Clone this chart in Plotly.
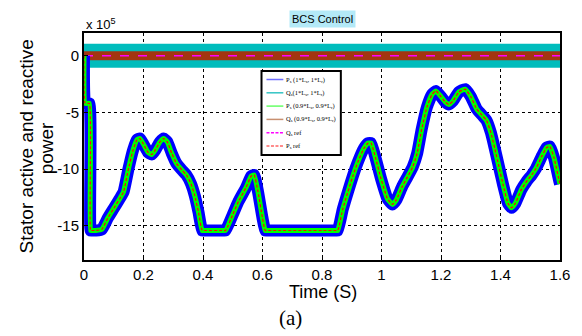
import plotly.graph_objects as go

# ---------------- data ----------------
t_ps = [0.0, 0.004, 0.018, 0.022, 0.026, 0.04, 0.06, 0.08, 0.1, 0.12, 0.133, 0.15, 0.165,
        0.178, 0.188, 0.2, 0.215, 0.228, 0.24, 0.255, 0.268, 0.28, 0.295, 0.311,
        0.33, 0.344, 0.36, 0.372, 0.385, 0.397, 0.405, 0.468, 0.476, 0.5, 0.52, 0.545,
        0.562, 0.572, 0.585, 0.6, 0.609, 0.617, 0.845, 0.853, 0.87, 0.887, 0.905, 0.92,
        0.94, 0.955, 0.965, 0.98, 0.998, 1.02, 1.037, 1.05, 1.07, 1.087, 1.105, 1.12,
        1.135, 1.153, 1.17, 1.183, 1.2, 1.215, 1.226, 1.24, 1.26, 1.281, 1.3, 1.32,
        1.34, 1.353, 1.368, 1.381, 1.395, 1.409, 1.425, 1.437, 1.45, 1.47, 1.487,
        1.505, 1.52, 1.54, 1.555, 1.566, 1.58, 1.598, 1.6]
ps_ref = [0.0, -4.2, -4.2, -15.4, -15.4, -15.4, -15.3, -14.3, -13.45, -12.6, -12.0, -9.9, -8.3,
          -7.4, -7.3, -7.8, -8.5, -8.7, -8.3, -7.6, -7.3, -7.6, -8.6, -9.5,
          -10.1, -10.5, -11.3, -12.3, -13.8, -15.4, -15.4, -15.4, -15.4, -14.0, -12.8, -11.6,
          -10.6, -10.5, -12.0, -14.3, -15.4, -15.4, -15.4, -15.4, -13.5, -12.0, -10.5, -9.4,
          -8.2, -7.7, -7.7, -9.0, -10.8, -12.6, -13.1, -12.7, -11.5, -10.7, -9.8, -8.6,
          -6.5, -4.5, -3.4, -3.1, -3.6, -4.1, -4.3, -4.0, -3.2, -2.95, -3.6, -4.7,
          -5.3, -5.7, -6.8, -8.2, -9.8, -11.4, -13.0, -13.4, -13.0, -11.8, -11.1,
          -10.5, -9.9, -8.8, -8.1, -8.0, -9.0, -11.1, -11.3]
ps_1L = ps_ref          # P_s (1*Ls, 1*Lr)
ps_09L = ps_ref         # P_s (0.9*Ls, 0.9*Lr)

t_qs = [0.0, 1.6]
qs_ref = [0.0, 0.0]
qs_1L = [0.0, 0.0]
qs_09L = [0.0, 0.0]

y_tickvals = [0, -5, -10, -15]
y_ticktext = ["0", "-5", "-10", "-15"]
x_tickvals = [0, 0.2, 0.4, 0.6, 0.8, 1.0, 1.2, 1.4, 1.6]
x_ticktext = ["0", "0.2", "0.4", "0.6", "0.8", "1", "1.2", "1.4", "1.6"]

legend_labels = [
    "P<sub>s</sub> (1*L<sub>s</sub>, 1*L<sub>r</sub>)",
    "Q<sub>s</sub>(1*L<sub>s</sub>, 1*L<sub>r</sub>)",
    "P<sub>s</sub> (0.9*L<sub>s</sub>, 0.9*L<sub>r</sub>)",
    "Q<sub>s</sub> (0.9*L<sub>s</sub>, 0.9*L<sub>r</sub>)",
    "Q<sub>s</sub> ref",
    "P<sub>s</sub> ref",
]
legend_colors = ["#6f6fff", "#33c4c4", "#66ff66", "#c89070", "#ff00ff", "#ff6666"]
legend_dash = ["solid", "solid", "solid", "solid", "3px,1.5px", "3px,1.5px"]

# ---------------- figure ----------------
fig = go.Figure()
fig.add_trace(go.Scatter(x=t_qs, y=qs_1L, mode="lines",
                         line=dict(color="#00bcbc", width=24), showlegend=False))
fig.add_trace(go.Scatter(x=t_qs, y=qs_09L, mode="lines",
                         line=dict(color="#a33510", width=9), showlegend=False))
fig.add_trace(go.Scatter(x=t_qs, y=qs_ref, mode="lines",
                         line=dict(color="#ff00ff", width=1.5, dash="dash"), showlegend=False))
fig.add_trace(go.Scatter(x=t_ps, y=ps_1L, mode="lines",
                         line=dict(color="#0000ff", width=12, shape="spline", smoothing=0.4),
                         showlegend=False))
fig.add_trace(go.Scatter(x=t_ps, y=ps_09L, mode="lines",
                         line=dict(color="#00ff00", width=5, shape="spline", smoothing=0.4),
                         showlegend=False))
fig.add_trace(go.Scatter(x=t_ps, y=ps_ref, mode="lines",
                         line=dict(color="#ff0000", width=1.2, dash="3px,2px",
                                   shape="spline", smoothing=0.4),
                         showlegend=False))

L, R, T, B = 84, 564, 33, 260
W, H = R - L, B - T


def px(xp):
    return (xp - L) / W


def py(yp):
    return (B - yp) / H


shapes = []
# legend box
shapes.append(dict(type="rect", xref="paper", yref="paper",
                   x0=px(263), x1=px(343), y0=py(155), y1=py(71),
                   line=dict(color="black", width=2), fillcolor="white", layer="above"))
annotations = []
for i, (lab, col, d) in enumerate(zip(legend_labels, legend_colors, legend_dash)):
    yy = 79.5 + i * 13.3
    shapes.append(dict(type="line", xref="paper", yref="paper",
                       x0=px(268), x1=px(285), y0=py(yy), y1=py(yy),
                       line=dict(color=col, width=1.5, dash=d), layer="above"))
    annotations.append(dict(text=lab, xref="paper", yref="paper",
                            x=px(286), y=py(yy), xanchor="left", yanchor="middle",
                            showarrow=False,
                            font=dict(family="Liberation Serif, Times New Roman, serif",
                                      size=6.5, color="black")))

annotations += [
    dict(text="BCS Control", xref="paper", yref="paper", x=px(324), y=py(18.5),
         xanchor="center", yanchor="middle", showarrow=False, bgcolor="#b3e9f7",
         borderpad=2, font=dict(family="Liberation Sans, Arial", size=11, color="black")),
    dict(text="x 10<sup>5</sup>", xref="paper", yref="paper", x=0, y=py(33),
         xanchor="left", yanchor="bottom", showarrow=False, yshift=-1,
         font=dict(family="Liberation Sans, Arial", size=13, color="black")),
    dict(text="Stator active and reactive", xref="paper", yref="paper",
         x=px(26), y=py(146), xanchor="center", yanchor="middle", textangle=-90,
         showarrow=False, font=dict(family="Liberation Sans, Arial", size=19, color="black")),
    dict(text="power", xref="paper", yref="paper",
         x=px(46), y=py(148), xanchor="center", yanchor="middle", textangle=-90,
         showarrow=False, font=dict(family="Liberation Sans, Arial", size=19, color="black")),
    dict(text="Time (S)", xref="paper", yref="paper", x=px(325), y=py(292),
         xanchor="center", yanchor="middle", showarrow=False,
         font=dict(family="Liberation Sans, Arial", size=18, color="black")),
    dict(text="(a)", xref="paper", yref="paper", x=px(292), y=py(318),
         xanchor="center", yanchor="middle", showarrow=False,
         font=dict(family="Liberation Serif, Times New Roman, serif", size=21, color="black")),
]

fig.update_layout(
    width=582, height=336,
    margin=dict(l=L, r=582 - R, t=T, b=336 - B),
    paper_bgcolor="white", plot_bgcolor="white",
    showlegend=False,
    shapes=shapes, annotations=annotations,
    xaxis=dict(range=[0, 1.6], tickvals=x_tickvals, ticktext=x_ticktext,
               showgrid=True, gridcolor="black", griddash="dot", gridwidth=1,
               zeroline=False, showline=True, linecolor="black", linewidth=2,
               mirror=True, ticks="inside", ticklen=4, tickcolor="black",
               tickfont=dict(family="Liberation Sans, Arial", size=15, color="black")),
    yaxis=dict(range=[-18, 2], tickvals=y_tickvals, ticktext=y_ticktext,
               showgrid=True, gridcolor="black", griddash="dot", gridwidth=1,
               zeroline=False, showline=True, linecolor="black", linewidth=2,
               mirror=True, ticks="inside", ticklen=4, tickcolor="black",
               tickfont=dict(family="Liberation Sans, Arial", size=15, color="black")),
)

fig.write_html("out.html", config={"displayModeBar": False},
               post_script="document.body.style.margin='0';")
